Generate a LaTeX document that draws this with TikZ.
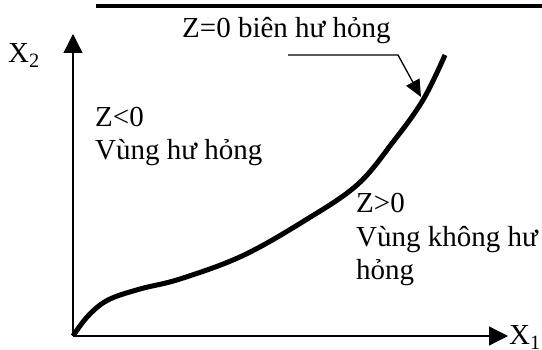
\documentclass[tikz,border=0pt]{standalone}
\usepackage{fontspec}
\setmainfont{Liberation Serif}
\usetikzlibrary{arrows.meta,positioning,calc}

\begin{document}
\begin{tikzpicture}[x=1pt,y=-1pt,
  axis/.style={line width=1.3pt,-{Triangle[length=19pt,width=19pt]}},
  boundary/.style={line width=5pt},
  leader/.style={line width=1.3pt,-{Triangle[length=17pt,width=15pt]}},
  lbl/.style={inner sep=0pt,anchor=base west,align=left},
  font=\fontsize{29}{33.5}\selectfont]
  \useasboundingbox (0,0) rectangle (542,350);
  \draw[line width=3.5pt] (96,6) -- (542,6); % Top rule
  \coordinate (O) at (73,336);
  \coordinate (x1end) at (508,336);
  \coordinate (x2end) at (73,34);
  \draw[axis] (O) -- (x1end); % X1 axis
  \draw[axis] (O) -- (x2end); % X2 axis
  \node[lbl] (x1lbl) at (509,345) {X\textsubscript{1}};
  \node[lbl] (x2lbl) at (8,63) {X\textsubscript{2}};
  % Limit state Z=0
  \draw[boundary] plot[smooth,tension=0.6] coordinates {(73,336) (88,316) (108,300) (140,289) (180,279) (242,256) (304,221) (357,185) (393,142) (423,100) (445,55)};
  \node[lbl] (zero) at (182,38) {Z=0 biên hư hỏng};
  \coordinate (lead1) at (288,55);
  \coordinate (lead2) at (398,55);
  \coordinate (leadtip) at (421,97);
  \draw[leader] (lead1) -- (lead2) -- (leadtip);
  \node[lbl] (fail) at (95,160) {Z<0\\Vùng hư hỏng}; % base = last line
  \node[lbl] (safe) at (356,280) {Z>0\\Vùng không hư\\hỏng};
\end{tikzpicture}
\end{document}
